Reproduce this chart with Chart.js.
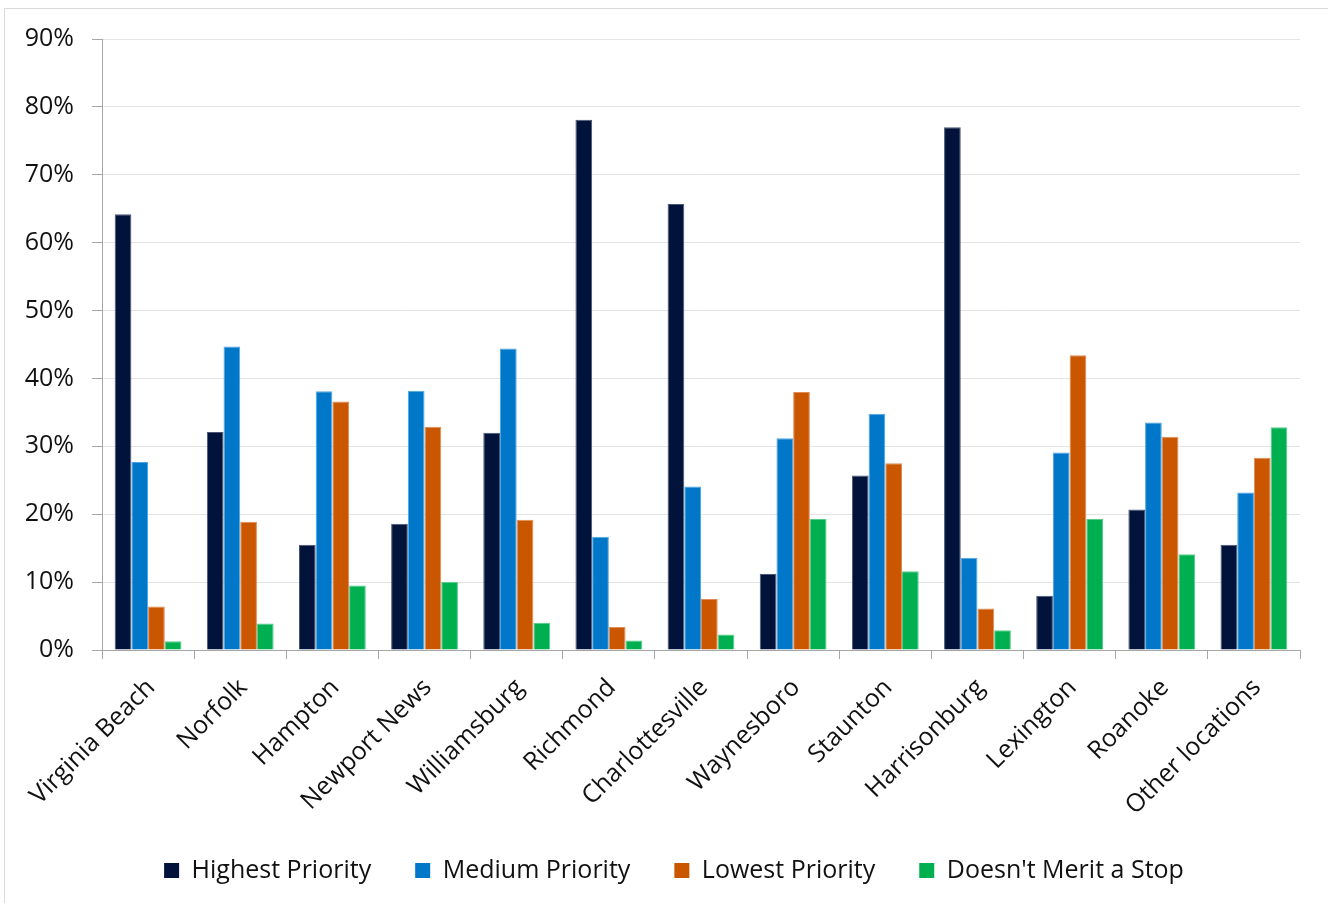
<!DOCTYPE html>
<html>
<head>
<meta charset="utf-8">
<script src="https://cdn.jsdelivr.net/npm/chart.js@4.4.1/dist/chart.umd.min.js"></script>
<style>
  html, body { margin: 0; padding: 0; background: #ffffff; }
  #wrap { width: 1328px; height: 903px; }
</style>
</head>
<body>
<div id="wrap"><canvas id="chart" width="1328" height="903"></canvas></div>
<script>
// Survey results: share of respondents rating each location as a stop (%)
const categories = ['Virginia Beach', 'Norfolk', 'Hampton', 'Newport News', 'Williamsburg', 'Richmond',
  'Charlottesville', 'Waynesboro', 'Staunton', 'Harrisonburg', 'Lexington', 'Roanoke', 'Other locations'];
const highestPriority = [64.2, 32.1, 15.5, 18.6, 32.0, 78.1, 65.7, 11.2, 25.7, 77.0, 8.0, 20.7, 15.5];
const mediumPriority  = [27.7, 44.7, 38.1, 38.2, 44.4, 16.7, 24.1, 31.2, 34.8, 13.6, 29.1, 33.5, 23.2];
const lowestPriority  = [6.4, 18.9, 36.6, 32.9, 19.2, 3.4, 7.5, 38.0, 27.5, 6.1, 43.4, 31.4, 28.3];
const noStop          = [1.3, 3.9, 9.5, 10.0, 4.0, 1.4, 2.3, 19.3, 11.6, 2.9, 19.3, 14.1, 32.8];
const seriesNames = ['Highest Priority', 'Medium Priority', 'Lowest Priority', "Doesn't Merit a Stop"];
const yTicks = [0, 10, 20, 30, 40, 50, 60, 70, 80, 90];

const FONT = '"Open Sans", "Noto Sans", sans-serif';
const TEXT = '#111111';
const AXIS_GRAY = '#a6a6a6';

// Thin outer frame around the chart
const framePlugin = {
  id: 'frame',
  beforeDraw(chart) {
    const ctx = chart.ctx;
    ctx.save();
    ctx.strokeStyle = '#d9d9d9';
    ctx.lineWidth = 1;
    ctx.strokeRect(4.5, 8.5, chart.width + 20, chart.height + 20);
    ctx.restore();
  }
};

// Center the legend row under the plot area rather than the whole canvas
const legendShiftPlugin = {
  id: 'legendShift',
  afterLayout(chart) {
    const lg = chart.legend;
    if (!lg) return;
    const shift = 24;
    lg.left += shift;
    lg.right += shift;
  }
};

function series(label, data, fill, edge) {
  return {
    label, data,
    backgroundColor: fill,
    borderColor: edge,
    borderWidth: 1,
    borderSkipped: 'start',
    barPercentage: 1.0,
    categoryPercentage: 0.725
  };
}

new Chart(document.getElementById('chart'), {
  type: 'bar',
  data: {
    labels: categories,
    datasets: [
      series(seriesNames[0], highestPriority, '#01133b', '#4a5573'),
      series(seriesNames[1], mediumPriority, '#0077c8', '#4fa6e2'),
      series(seriesNames[2], lowestPriority, '#cb5600', '#e08a55'),
      series(seriesNames[3], noStop, '#00b050', '#55cc88')
    ]
  },
  options: {
    responsive: false,
    animation: false,
    layout: { padding: { left: 0, right: 28, top: 39, bottom: 10 } },
    plugins: {
      tooltip: { enabled: false },
      legend: {
        position: 'bottom',
        labels: {
          font: { family: FONT, size: 25 },
          color: TEXT,
          boxWidth: 15,
          boxHeight: 15,
          padding: 44,
          generateLabels(chart) {
            return chart.data.datasets.map((ds, i) => ({
              text: ds.label,
              fillStyle: ds.backgroundColor,
              strokeStyle: ds.backgroundColor,
              lineWidth: 0,
              hidden: false,
              datasetIndex: i,
              fontColor: TEXT
            }));
          }
        }
      }
    },
    scales: {
      x: {
        grid: {
          offset: true,
          drawOnChartArea: false,
          drawTicks: true,
          tickLength: 9,
          tickColor: AXIS_GRAY,
          tickWidth: 1
        },
        border: { color: AXIS_GRAY, width: 1 },
        ticks: {
          font: { family: FONT, size: 25 },
          color: TEXT,
          minRotation: 45,
          maxRotation: 45,
          autoSkip: false,
          padding: 14,
          labelOffset: 3
        },
        afterFit(scale) {
          scale.paddingLeft = 0;
          scale.paddingRight = 0;
          scale.height = 164;
        }
      },
      y: {
        min: 0,
        max: 90,
        afterBuildTicks(scale) {
          scale.ticks = yTicks.map(v => ({ value: v }));
        },
        grid: {
          color: '#e4e4e4',
          lineWidth: 1,
          drawTicks: true,
          tickLength: 10,
          tickColor: AXIS_GRAY
        },
        border: { color: AXIS_GRAY, width: 1 },
        ticks: {
          font: { family: FONT, size: 25 },
          color: TEXT,
          padding: 18,
          callback: v => v + '%'
        },
        afterFit(scale) {
          scale.width = 102;
          scale.paddingTop = 0;
          scale.paddingBottom = 0;
        }
      }
    }
  },
  plugins: [framePlugin, legendShiftPlugin]
});
</script>
</body>
</html>
